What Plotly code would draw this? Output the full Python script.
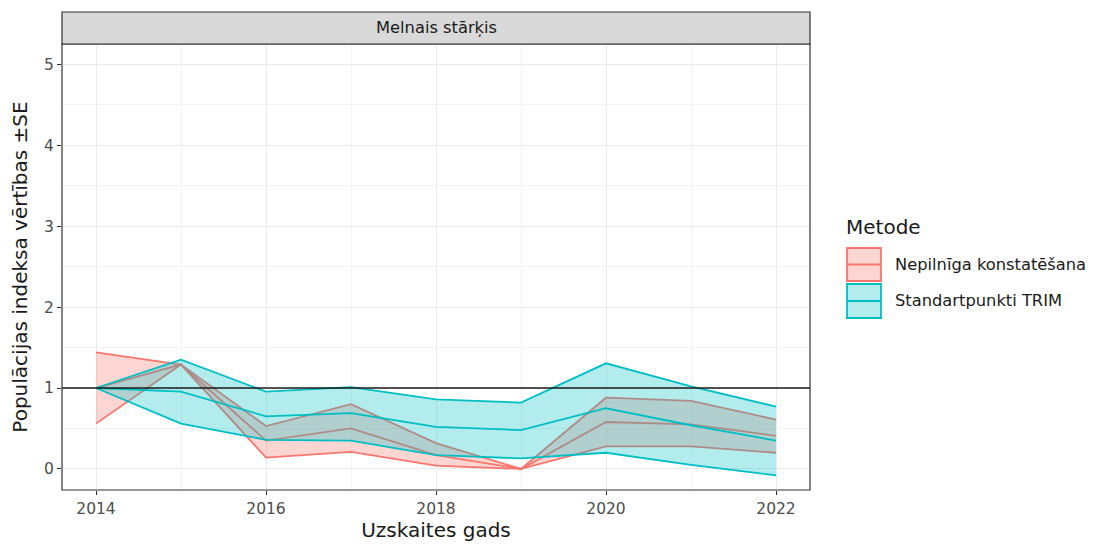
import plotly.graph_objects as go

years = [2014, 2015, 2016, 2017, 2018, 2019, 2020, 2021, 2022]

methods = ["Nepilnīga konstatēšana", "Standartpunkti TRIM"]

# Nepilnīga konstatēšana
nep_mean = [1.00, 1.29, 0.35, 0.50, 0.17, 0.00, 0.58, 0.55, 0.41]
nep_upper = [1.44, 1.29, 0.53, 0.80, 0.32, 0.00, 0.88, 0.84, 0.61]
nep_lower = [0.56, 1.29, 0.14, 0.21, 0.04, 0.00, 0.28, 0.28, 0.20]

# Standartpunkti TRIM
trim_mean = [1.00, 0.955, 0.65, 0.69, 0.52, 0.48, 0.75, 0.54, 0.35]
trim_upper = [1.00, 1.35, 0.955, 1.01, 0.86, 0.82, 1.305, 1.02, 0.77]
trim_lower = [1.00, 0.56, 0.36, 0.35, 0.17, 0.13, 0.20, 0.05, -0.08]

reference_value = 1

x_ticks = [2014, 2016, 2018, 2020, 2022]
y_ticks = [0, 1, 2, 3, 4, 5]

strip_title = "Melnais stārķis"
x_title = "Uzskaites gads"
y_title = "Populācijas indeksa vērtības ±SE"
legend_title = "Metode"

line_colors = ["#F8766D", "#00BFC4"]
fill_colors = ["rgba(248,118,109,0.3)", "rgba(0,191,196,0.3)"]

FONT = "DejaVu Sans, Liberation Sans, Arial"
TICK = 15.5
SMALL = 16.3
BIG = 20
LW = 1.8

fig = go.Figure()

series = [
    (nep_mean, nep_upper, nep_lower),
    (trim_mean, trim_upper, trim_lower),
]

for i, (m, u, l) in enumerate(series):
    # ribbon fill
    fig.add_trace(go.Scatter(
        x=years + years[::-1], y=u + l[::-1],
        fill="toself", fillcolor=fill_colors[i],
        mode="lines", line=dict(width=0), hoverinfo="skip",
        showlegend=False))
    for vals in (u, l, m):
        fig.add_trace(go.Scatter(
            x=years, y=vals, mode="lines",
            line=dict(color=line_colors[i], width=LW),
            showlegend=False, name=methods[i]))

grid = "#EBEBEB"
fig.update_xaxes(
    range=[2013.6, 2022.4], tickvals=x_ticks, ticktext=[str(v) for v in x_ticks],
    showgrid=True, gridcolor=grid, gridwidth=1.1,
    minor=dict(dtick=1, tick0=2015, showgrid=True, gridcolor="#F3F3F3", gridwidth=0.6),
    ticks="outside", ticklen=4, tickcolor="#333333", tickwidth=1,
    tickfont=dict(family=FONT, size=TICK, color="#4D4D4D"),
    title=dict(text=x_title, font=dict(family=FONT, size=BIG, color="#1a1a1a"), standoff=5),
    zeroline=False, showline=False, automargin=False)
fig.update_yaxes(
    range=[-0.26, 5.25], tickvals=y_ticks,
    showgrid=True, gridcolor=grid, gridwidth=1.1,
    minor=dict(dtick=1, tick0=0.5, showgrid=True, gridcolor="#F3F3F3", gridwidth=0.6),
    ticks="outside", ticklen=4, tickcolor="#333333", tickwidth=1,
    tickfont=dict(family=FONT, size=TICK, color="#4D4D4D"),
    title=dict(text=y_title, font=dict(family=FONT, size=BIG, color="#1a1a1a"), standoff=12),
    zeroline=False, showline=False, automargin=False)

shapes = [
    # reference line
    dict(type="line", xref="paper", yref="y", x0=0, x1=1, y0=reference_value, y1=reference_value,
         line=dict(color="#1a1a1a", width=1.4), layer="above"),
    # panel border
    dict(type="rect", xref="paper", yref="paper", x0=0, x1=1, y0=0, y1=1,
         line=dict(color="#333333", width=1.2), fillcolor="rgba(0,0,0,0)", layer="above"),
    # strip
    dict(type="rect", xref="paper", yref="paper", x0=0, x1=1, y0=1.0, y1=1.0717,
         line=dict(color="#333333", width=1.2), fillcolor="#D9D9D9", layer="above"),
]

annotations = [
    dict(text=strip_title, xref="paper", yref="paper", x=0.5, y=1.0359, showarrow=False,
         xanchor="center", yanchor="middle",
         font=dict(family=FONT, size=SMALL, color="#1a1a1a")),
    dict(text=legend_title, xref="paper", yref="paper", x=1.046, y=0.5897, showarrow=False,
         xanchor="left", yanchor="middle",
         font=dict(family=FONT, size=BIG, color="#1a1a1a")),
]

# manual legend keys
key_y = [(0.4686, 0.5426), (0.3857, 0.4619)]
for i in range(2):
    y0, y1 = key_y[i]
    shapes.append(dict(type="rect", xref="paper", yref="paper", x0=1.0495, x1=1.0949, y0=y0, y1=y1,
                       line=dict(color=line_colors[i], width=1.8), fillcolor=fill_colors[i]))
    yc = (y0 + y1) / 2
    shapes.append(dict(type="line", xref="paper", yref="paper", x0=1.0495, x1=1.0949, y0=yc, y1=yc,
                       line=dict(color=line_colors[i], width=1.8)))
    annotations.append(dict(text=methods[i], xref="paper", yref="paper", x=1.111, y=yc,
                            showarrow=False, xanchor="left", yanchor="middle",
                            font=dict(family=FONT, size=SMALL, color="#1a1a1a")))

# page body has an 8px default margin, so the figure is sized to fit the window
fig.update_layout(
    width=1086, height=539,
    margin=dict(l=54, r=284, t=36, b=57),
    plot_bgcolor="white", paper_bgcolor="white",
    shapes=shapes, annotations=annotations,
    showlegend=False,
)

fig.write_html("out.html")
